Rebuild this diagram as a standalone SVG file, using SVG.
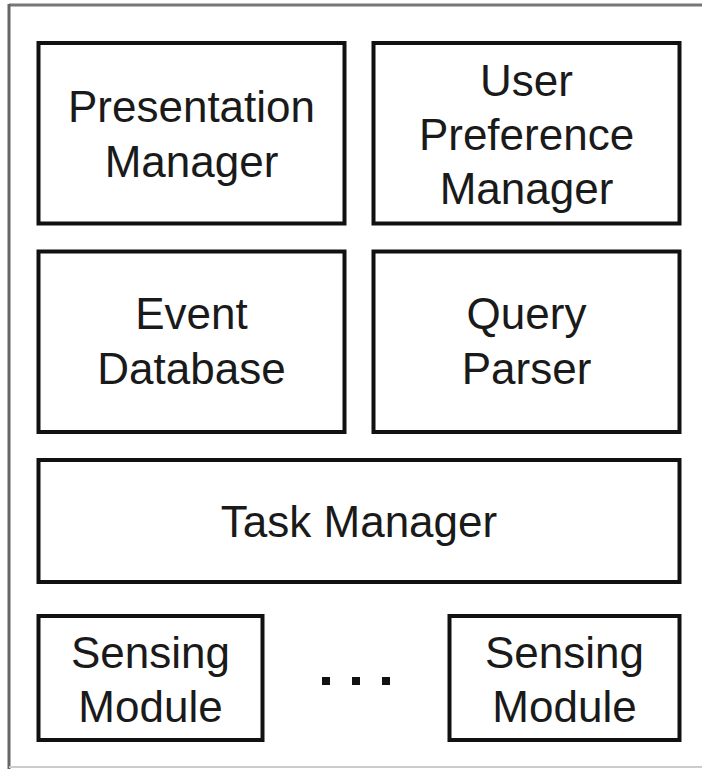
<svg xmlns="http://www.w3.org/2000/svg" width="702" height="769" viewBox="0 0 702 769">
<style>
.box{fill:#fff;stroke:#111;stroke-width:4}
.t{font-family:"Liberation Sans",Arial,sans-serif;font-size:44px;fill:#1a1a1a;text-anchor:middle}
</style>
<rect x="0" y="0" width="702" height="769" fill="#fff"/>
<g id="frame">
<line x1="9" y1="5" x2="702" y2="5" stroke="#777" stroke-width="3"/>
<line x1="9" y1="4" x2="9" y2="769" stroke="#666" stroke-width="3"/>
<line x1="9" y1="767" x2="702" y2="767" stroke="#ccc" stroke-width="2"/>
</g>
<g id="presentation-manager">
<rect class="box" x="38.5" y="43" width="306" height="180.5"/>
<text class="t" x="191.5" y="122">Presentation</text>
<text class="t" x="191.5" y="177">Manager</text>
</g>
<g id="user-preference-manager">
<rect class="box" x="373.5" y="43" width="306" height="180.5"/>
<text class="t" x="526.5" y="96">User</text>
<text class="t" x="526.5" y="150">Preference</text>
<text class="t" x="526.5" y="204">Manager</text>
</g>
<g id="event-database">
<rect class="box" x="38.5" y="251.5" width="306" height="180.5"/>
<text class="t" x="191.5" y="329">Event</text>
<text class="t" x="191.5" y="384">Database</text>
</g>
<g id="query-parser">
<rect class="box" x="373.5" y="251.5" width="306" height="180.5"/>
<text class="t" x="526.5" y="329">Query</text>
<text class="t" x="526.5" y="384">Parser</text>
</g>
<g id="task-manager">
<rect class="box" x="38.5" y="460" width="641" height="122"/>
<text class="t" x="359" y="537">Task Manager</text>
</g>
<g id="sensing-module-1">
<rect class="box" x="38.5" y="616" width="224" height="124"/>
<text class="t" x="150.5" y="668">Sensing</text>
<text class="t" x="150.5" y="722">Module</text>
</g>
<g id="sensing-module-2">
<rect class="box" x="449.5" y="616" width="230" height="124"/>
<text class="t" x="564.5" y="668">Sensing</text>
<text class="t" x="564.5" y="722">Module</text>
</g>
<g id="ellipsis" fill="#111">
<rect x="322" y="677" width="8" height="8"/>
<rect x="352" y="677" width="8" height="8"/>
<rect x="382" y="677" width="8" height="8"/>
</g>
<g id="connectors"></g>
</svg>
